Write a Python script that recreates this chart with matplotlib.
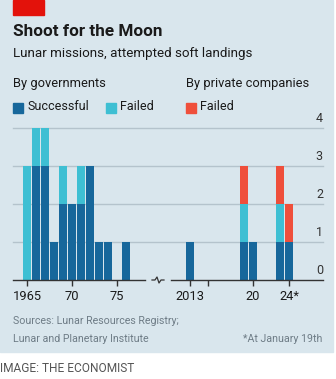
import matplotlib.pyplot as plt
from matplotlib.lines import Line2D
from matplotlib.patches import Rectangle

# governments, 1965-76
gov_years = [1965, 1966, 1967, 1968, 1969, 1970, 1971, 1972, 1973, 1974, 1975, 1976]
gov_success = [0, 3, 3, 1, 2, 2, 2, 3, 1, 1, 0, 1]
gov_failed = [3, 1, 1, 0, 1, 0, 1, 0, 0, 0, 0, 0]

# 2013 onwards
new_years = [2013, 2019, 2020, 2023, 2024]
new_success = [1, 1, 1, 1, 1]
new_gov_failed = [0, 1, 0, 1, 0]
new_priv_failed = [0, 1, 0, 1, 1]

left_ticks = [1965, 1970, 1975]
left_labels = ['1965', '70', '75']
right_ticks = [2013, 2015, 2020, 2024]
right_labels = ['2013', '', '20', '24*']
y_ticks = [0, 1, 2, 3, 4]

DARK = '#17679b'
CYAN = '#3ebfd3'
RED = '#ef4f3b'
BG = '#d9e6ed'
GRID = '#b4c3cc'
INK = '#1a1a1a'
GREY = '#6e7c86'

plt.rcParams['font.family'] = ['Roboto', 'DejaVu Sans']

W, H = 336, 379
fig = plt.figure(figsize=(W / 100, H / 100), dpi=100)
fig.patch.set_facecolor('white')


def fx(px):
    return px / W


def fy(py):
    return 1 - py / H


# panel background and red tag
fig.patches.append(Rectangle((0, fy(352)), fx(333), 1 - fy(352) + 0.001,
                             transform=fig.transFigure, color=BG, zorder=-10))
fig.patches.append(Rectangle((fx(13), fy(15)), fx(31), 15 / H,
                             transform=fig.transFigure, color='#e3120b', zorder=-5))

fig.text(fx(13), fy(32), 'Shoot for the Moon', fontsize=12.3, fontweight='bold',
         color=INK, va='center')
fig.text(fx(13), fy(53), 'Lunar missions, attempted soft landings', fontsize=9.6,
         color=INK, va='center')
fig.text(fx(13), fy(84), 'By governments', fontsize=9.3, color=INK, va='center')
fig.text(fx(186), fy(84), 'By private companies', fontsize=9.3, color=INK, va='center')

for x0, col, lab in [(13, DARK, 'Successful'), (106, CYAN, 'Failed'), (186, RED, 'Failed')]:
    fig.patches.append(Rectangle((fx(x0), fy(113)), fx(10), 10 / H,
                                 transform=fig.transFigure, color=col, zorder=-5))
    fig.text(fx(x0 + 14), fy(107), lab, fontsize=9.0, color=INK, va='center')

bottom = (H - 280) / H
height = 152 / H

# grid axis spans the whole width
gax = fig.add_axes([fx(13), bottom, fx(310), height])
gax.set_xlim(0, 1)
gax.set_ylim(0, 4)
gax.axis('off')
for y in y_ticks[1:]:
    gax.axhline(y, color=GRID, linewidth=1, clip_on=False, zorder=0)
for y in y_ticks:
    gax.text(1.0, y + 0.08, str(y), ha='right', va='bottom', fontsize=9,
             color='#333333')

lax = fig.add_axes([fx(13), bottom, fx(132), height])
rax = fig.add_axes([fx(171), bottom, fx(152), height])
lax.set_xlim(1963.44, 1978.11)
rax.set_xlim(2010.89, 2027.78)

width = 0.86
lax.bar(gov_years, gov_success, width, color=DARK, zorder=3)
lax.bar(gov_years, gov_failed, width, bottom=gov_success, color=CYAN, zorder=3)

rax.bar(new_years, new_success, width, color=DARK, zorder=3)
rax.bar(new_years, new_gov_failed, width, bottom=new_success, color=CYAN, zorder=3)
stack2 = [a + b for a, b in zip(new_success, new_gov_failed)]
rax.bar(new_years, new_priv_failed, width, bottom=stack2, color=RED, zorder=3)

for ax, ticks, labels in [(lax, left_ticks, left_labels), (rax, right_ticks, right_labels)]:
    ax.set_ylim(0, 4)
    ax.patch.set_alpha(0)
    for s in ['top', 'left', 'right']:
        ax.spines[s].set_visible(False)
    ax.spines['bottom'].set_color('#333333')
    ax.spines['bottom'].set_linewidth(1)
    ax.spines['bottom'].set_zorder(4)
    ax.set_yticks([])
    ax.set_xticks(ticks)
    ax.set_xticklabels(labels, fontsize=9.3, color=INK)
    ax.tick_params(axis='x', length=4, width=1, color='#333333', pad=3)

# axis break mark
xs = [152, 155, 157, 159, 161, 164]
ys = [280, 280, 277, 283, 280, 280]
fig.lines.append(Line2D([fx(x) for x in xs], [fy(y) for y in ys],
                        transform=fig.transFigure, color='#333333', linewidth=0.9))

fig.text(fx(13), fy(321), 'Sources: Lunar Resources Registry;', fontsize=7.7,
         color=GREY, va='center')
fig.text(fx(13), fy(339), 'Lunar and Planetary Institute', fontsize=7.7,
         color=GREY, va='center')
fig.text(fx(322), fy(339), '*At January 19th', fontsize=7.7, color=GREY,
         va='center', ha='right')

fig.text(0, fy(368), 'IMAGE: THE ECONOMIST', fontsize=8.6, color='#555555', va='center')

fig.savefig('out.png', dpi=100)
